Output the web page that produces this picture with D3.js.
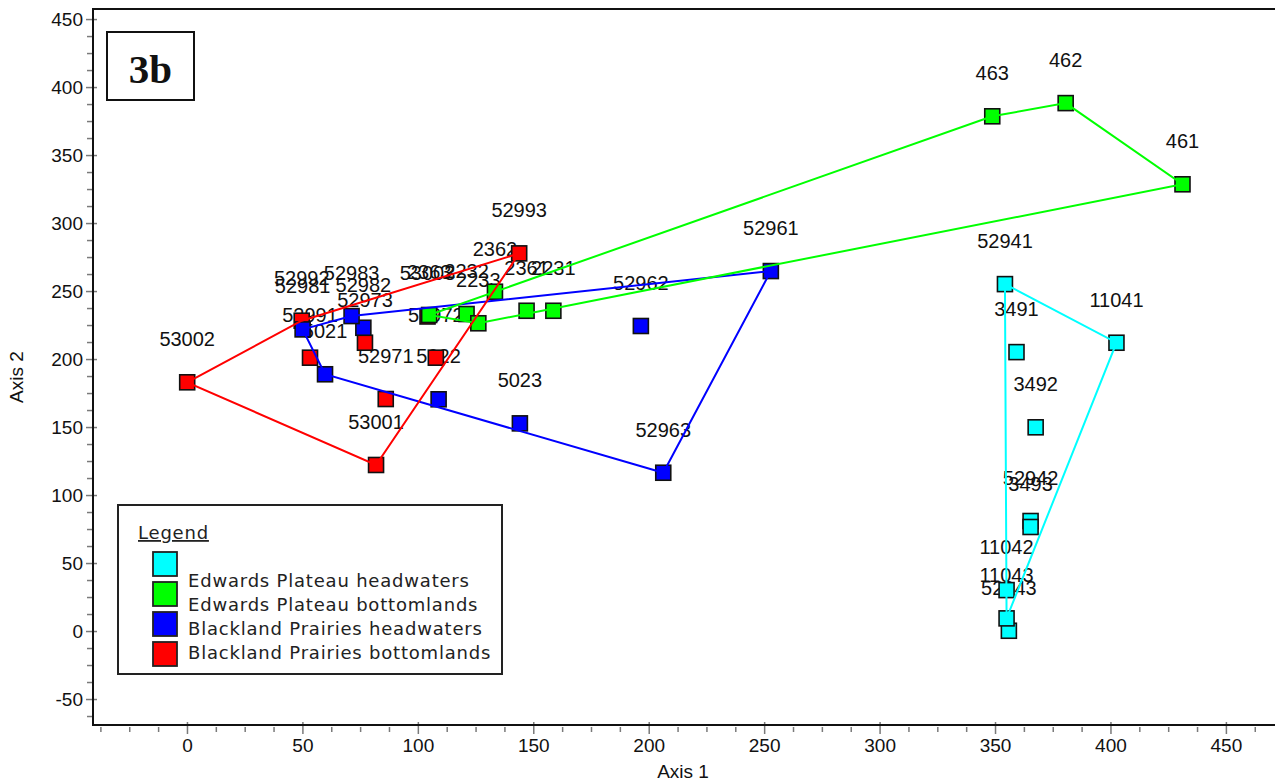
<!DOCTYPE html>
<html>
<head>
<meta charset="utf-8">
<script src="https://cdn.jsdelivr.net/npm/d3@7"></script>
<style>
  body { margin: 0; background: #fff; }
  svg { display: block; font-family: "Liberation Sans", Arial, sans-serif; }
</style>
</head>
<body>
<svg width="1275" height="782"></svg>
<script>
// ordination scores (Axis 1, Axis 2)
var groupNames = ["Edwards Plateau headwaters", "Edwards Plateau bottomlands",
                  "Blackland Prairies headwaters", "Blackland Prairies bottomlands"];
var groupColors = ["#00ffff", "#00ff00", "#0000ff", "#ff0000"];

var cyanLabels = ["52941", "52942", "52943", "3491", "3492", "3493", "11041", "11042", "11043"];
var cyanX = [354.3, 365.4, 356.0, 359.3, 367.6, 365.4, 402.6, 355.0, 355.0];
var cyanY = [255.1, 80.9, 0.2, 205.1, 149.8, 76.5, 212.0, 30.1, 9.3];
var cyanHull = ["52941", "11041", "11043"];

var greenLabels = ["461", "462", "463", "2231", "2232", "2233", "2361", "2362", "2363"];
var greenX = [431.2, 380.6, 348.8, 158.7, 121.1, 126.2, 147.1, 133.4, 104.9];
var greenY = [328.5, 388.2, 378.5, 235.5, 233.1, 226.3, 235.5, 249.5, 232.4];
var greenHull = ["2363", "463", "462", "461", "2233"];

var blueLabels = ["52961", "52962", "52963", "5021", "5022", "5023", "52981", "52982", "52983"];
var blueX = [252.9, 196.6, 206.3, 59.8, 109.0, 144.2, 50.1, 76.4, 71.3];
var blueY = [264.7, 224.3, 116.4, 188.8, 170.4, 152.7, 221.8, 223.0, 231.6];
var blueHull = ["52981", "52983", "52961", "52963", "5021"];

var redLabels = ["52991", "52992", "52993", "53001", "53002", "53003", "52971", "52972", "52973"];
var redX = [53.3, 49.7, 143.9, 81.9, 0.1, 104.2, 86.1, 107.8, 77.1];
var redY = [201.0, 228.2, 277.7, 122.1, 182.9, 231.3, 170.6, 201.0, 212.0];
var redHull = ["53002", "52992", "52993", "53001"];

var xTicks = [0, 50, 100, 150, 200, 250, 300, 350, 400, 450];
var yTicks = [-50, 0, 50, 100, 150, 200, 250, 300, 350, 400, 450];
var panelLabel = "3b";

var svg = d3.select("svg");

var x = d3.scaleLinear().domain([-40.7, 471.7]).range([93, 1276]);
var y = d3.scaleLinear().domain([-69.1, 457.4]).range([725, 9]);

function makeGroup(i, labels, xs, ys, hull) {
    var pts = labels.map(function (l, j) { return {label: l, a1: xs[j], a2: ys[j], g: i}; });
    return {
        name: groupNames[i],
        color: groupColors[i],
        points: pts,
        hull: hull.map(function (h) { return pts.find(function (p) { return p.label === h; }); })
    };
}

var cyan = makeGroup(0, cyanLabels, cyanX, cyanY, cyanHull),
    green = makeGroup(1, greenLabels, greenX, greenY, greenHull),
    blue = makeGroup(2, blueLabels, blueX, blueY, blueHull),
    red = makeGroup(3, redLabels, redX, redY, redHull);

var pointOrder = [red, blue, cyan, green];
var lineOrder = [cyan, blue, green, red];

// minor ticks every 12.5
var xMinor = d3.range(-37.5, 470, 12.5).filter(function (v) { return v % 50 !== 0; });
var yMinor = d3.range(-62.5, 457, 12.5).filter(function (v) { return v % 50 !== 0; });
var plain = function (d) { return String(d); };   // hyphen minus, like the original

// x axis
var gx = svg.append("g").attr("transform", "translate(0,725)");
gx.append("g")
    .call(d3.axisBottom(x).tickValues(xMinor).tickSize(7).tickFormat(""))
    .call(function (g) { g.select(".domain").remove(); })
    .selectAll(".tick line").attr("y1", 2).attr("stroke", "#7a7a7a").attr("stroke-width", 1.5);
gx.append("g")
    .call(d3.axisBottom(x).tickValues(xTicks).tickSize(9).tickPadding(5).tickFormat(plain))
    .call(function (g) { g.select(".domain").remove(); })
    .call(function (g) {
        g.selectAll(".tick line").attr("y1", -3).attr("stroke", "#7a7a7a").attr("stroke-width", 1.5);
        g.selectAll(".tick text").attr("fill", "#111").style("font-size", "19px")
            .style("font-family", "'Liberation Sans', Arial, sans-serif");
    });

// y axis
var gy = svg.append("g").attr("transform", "translate(93,0)");
gy.append("g")
    .call(d3.axisLeft(y).tickValues(yMinor).tickSize(6).tickFormat(""))
    .call(function (g) { g.select(".domain").remove(); })
    .selectAll(".tick line").attr("stroke", "#7a7a7a").attr("stroke-width", 1.5);
gy.append("g")
    .call(d3.axisLeft(y).tickValues(yTicks).tickSize(7).tickPadding(3).tickFormat(plain))
    .call(function (g) { g.select(".domain").remove(); })
    .call(function (g) {
        g.selectAll(".tick line").attr("x1", 4).attr("stroke", "#7a7a7a").attr("stroke-width", 1.5);
        g.selectAll(".tick text").attr("fill", "#111").style("font-size", "19px")
            .style("font-family", "'Liberation Sans', Arial, sans-serif");
    });

// frame
svg.append("rect")
    .attr("x", 93).attr("y", 9).attr("width", 1200).attr("height", 716)
    .attr("fill", "none").attr("stroke", "#111").attr("stroke-width", 2);

svg.append("text")
    .attr("x", 683).attr("y", 778)
    .attr("text-anchor", "middle")
    .style("font-size", "19px").attr("fill", "#111")
    .text("Axis 1");

svg.append("text")
    .attr("transform", "translate(23,377) rotate(-90)")
    .attr("text-anchor", "middle")
    .style("font-size", "19px").attr("fill", "#111")
    .text("Axis 2");

// point labels (under the markers)
var allPoints = [].concat(cyan.points, green.points, blue.points, red.points);
svg.append("g")
    .selectAll("text")
    .data(allPoints)
    .enter().append("text")
        .attr("x", function (d) { return x(d.a1); })
        .attr("y", function (d) { return y(d.a2) - 36; })
        .attr("text-anchor", "middle")
        .style("font-size", "20px")
        .attr("fill", "#111")
        .text(function (d) { return d.label; });

// markers
pointOrder.forEach(function (grp) {
    svg.append("g")
        .selectAll("rect")
        .data(grp.points)
        .enter().append("rect")
            .attr("x", function (d) { return x(d.a1) - 7.5; })
            .attr("y", function (d) { return y(d.a2) - 7.5; })
            .attr("width", 15)
            .attr("height", 15)
            .attr("fill", grp.color)
            .attr("stroke", "#111")
            .attr("stroke-width", 1.6);
});

// hulls
var line = d3.line()
    .x(function (d) { return x(d.a1); })
    .y(function (d) { return y(d.a2); })
    .curve(d3.curveLinearClosed);

lineOrder.forEach(function (grp) {
    svg.append("path")
        .datum(grp.hull)
        .attr("d", line)
        .attr("fill", "none")
        .attr("stroke", grp.color)
        .attr("stroke-width", 2);
});

// legend
var lg = svg.append("g").style("font-family", "'DejaVu Sans', Verdana, sans-serif");
lg.append("rect")
    .attr("x", 118).attr("y", 505).attr("width", 384).attr("height", 169)
    .attr("fill", "#fff").attr("stroke", "#222").attr("stroke-width", 2);
lg.append("text")
    .attr("x", 138).attr("y", 539)
    .style("font-size", "18px").style("letter-spacing", "0.8px")
    .style("text-decoration", "underline")
    .attr("fill", "#222")
    .text("Legend");

var items = lg.selectAll(".item")
    .data([cyan, green, blue, red])
    .enter().append("g")
        .attr("class", "item");

items.append("rect")
    .attr("x", 153)
    .attr("y", function (d, i) { return 552 + i * 30; })
    .attr("width", 24)
    .attr("height", 24)
    .attr("fill", function (d) { return d.color; })
    .attr("stroke", "#222")
    .attr("stroke-width", 1.8);

items.append("text")
    .attr("x", 188)
    .attr("y", function (d, i) { return 587 + i * 24; })
    .style("font-size", "18px").style("letter-spacing", "0.8px")
    .attr("fill", "#222")
    .text(function (d) { return d.name; });

// panel tag
svg.append("rect")
    .attr("x", 107).attr("y", 32).attr("width", 87).attr("height", 68)
    .attr("fill", "#fff").attr("stroke", "#111").attr("stroke-width", 2);
svg.append("text")
    .attr("x", 150.5).attr("y", 83)
    .attr("text-anchor", "middle")
    .style("font-family", "'Liberation Serif', 'Times New Roman', serif")
    .style("font-weight", "bold")
    .style("font-size", "41px")
    .attr("fill", "#111")
    .text(panelLabel);
</script>
</body>
</html>
